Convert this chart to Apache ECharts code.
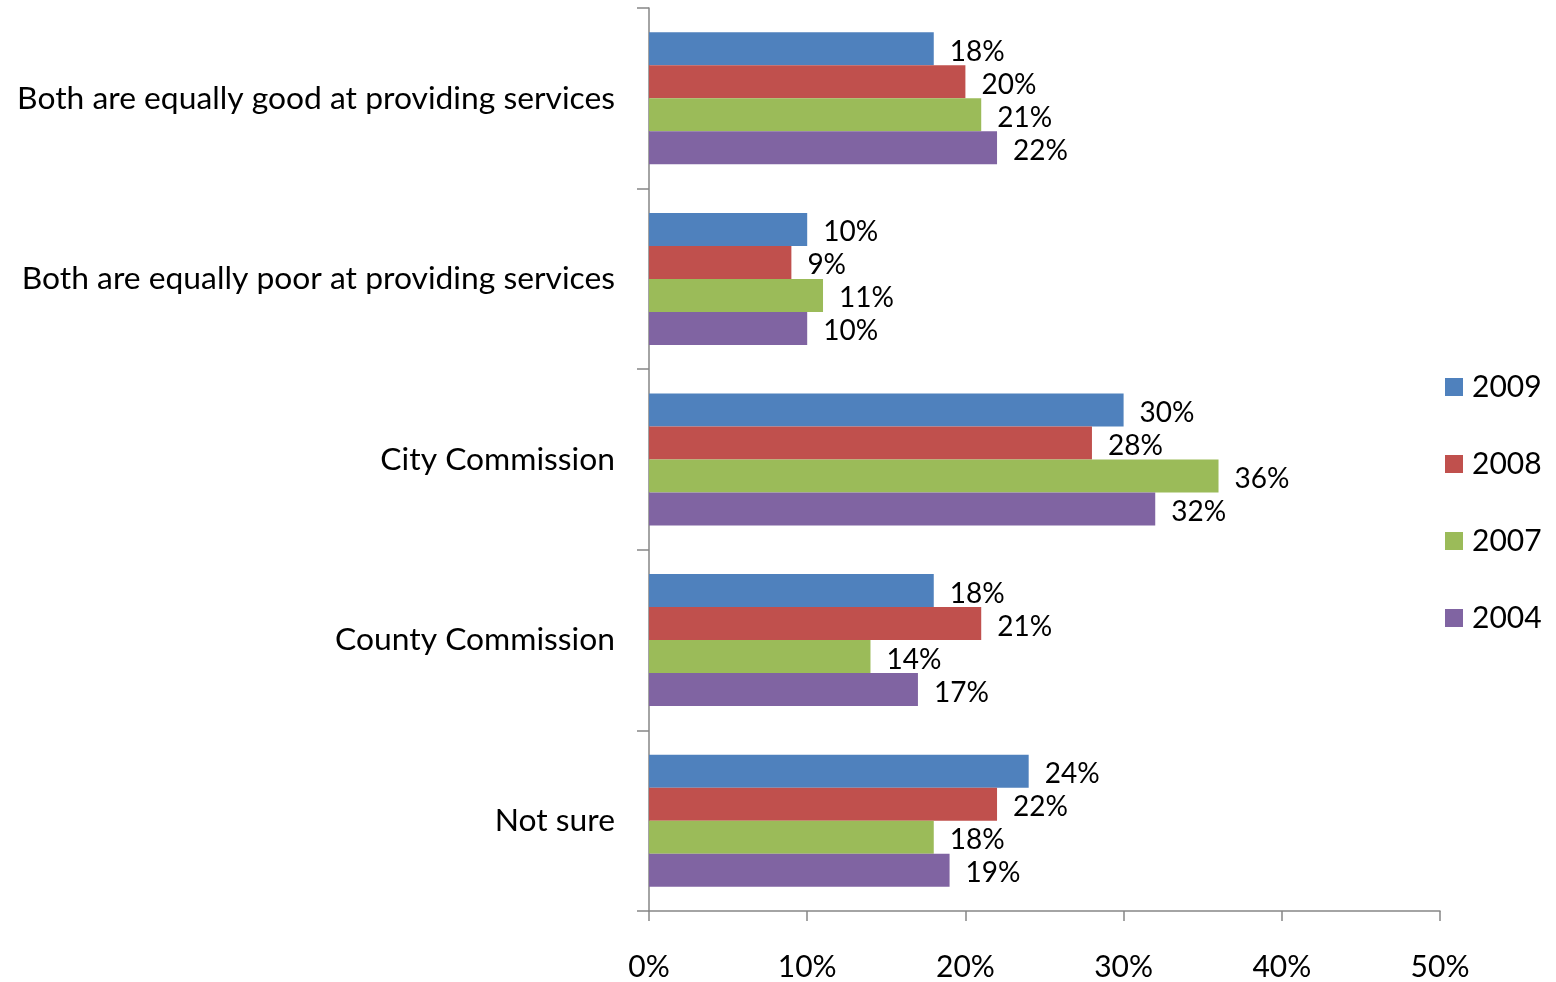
<!DOCTYPE html>
<html>
<head>
<meta charset="utf-8">
<script src="https://cdn.jsdelivr.net/npm/echarts@6/dist/echarts.min.js"></script>
<style>
html,body{margin:0;padding:0;background:#fff;}
#chart{width:1556px;height:982px;}
</style>
</head>
<body>
<div id="chart"></div>
<script>
const categories = [
  'Both are equally good at providing services',
  'Both are equally poor at providing services',
  'City Commission',
  'County Commission',
  'Not sure'
];
const seriesNames = ['2009', '2008', '2007', '2004'];
const values2009 = [18, 10, 30, 18, 24];
const values2008 = [20, 9, 28, 21, 22];
const values2007 = [21, 11, 36, 14, 18];
const values2004 = [22, 10, 32, 17, 19];
const colors = ['#4F81BD', '#C0504D', '#9BBB59', '#8064A2'];
const xTicks = [0, 10, 20, 30, 40, 50];

const FONT = 'Lato';
const allValues = [values2009, values2008, values2007, values2004];

const chart = echarts.init(document.getElementById('chart'), null, {renderer: 'canvas'});
chart.setOption({
  animation: false,
  textStyle: {fontFamily: FONT},
  legend: {
    orient: 'vertical',
    left: 1445,
    top: 372,
    padding: 0,
    itemWidth: 18,
    itemHeight: 18,
    itemGap: 47,
    icon: 'rect',
    data: seriesNames,
    textStyle: {fontFamily: FONT, fontSize: 30, color: '#000', lineHeight: 30, padding: [0, 0, 0, 4]}
  },
  grid: {left: 649, right: 116, top: 8, bottom: 71, containLabel: false},
  xAxis: {
    type: 'value',
    min: xTicks[0],
    max: xTicks[xTicks.length - 1],
    interval: 10,
    axisLine: {show: true, lineStyle: {color: '#868686', width: 1.5}},
    axisTick: {show: true, length: 10, lineStyle: {color: '#868686', width: 1.5}},
    splitLine: {show: false},
    axisLabel: {
      formatter: '{value}%', margin: 41,
      fontFamily: FONT, fontSize: 30, color: '#000'
    }
  },
  yAxis: {
    type: 'category',
    data: categories,
    inverse: true,
    axisLine: {show: true, lineStyle: {color: '#868686', width: 1.5}},
    axisTick: {show: true, length: 12, lineStyle: {color: '#868686', width: 1.5}},
    axisLabel: {margin: 34, fontFamily: FONT, fontSize: 31.8, color: '#000'}
  },
  series: seriesNames.map((name, i) => ({
    name: name,
    type: 'bar',
    data: allValues[i],
    barWidth: 33,
    barGap: '0%',
    itemStyle: {color: colors[i]},
    label: {
      show: true,
      position: 'right',
      distance: 16,
      offset: [0, 3],
      formatter: '{c}%',
      fontFamily: FONT,
      fontSize: 28,
      color: '#000'
    }
  }))
});
</script>
</body>
</html>
